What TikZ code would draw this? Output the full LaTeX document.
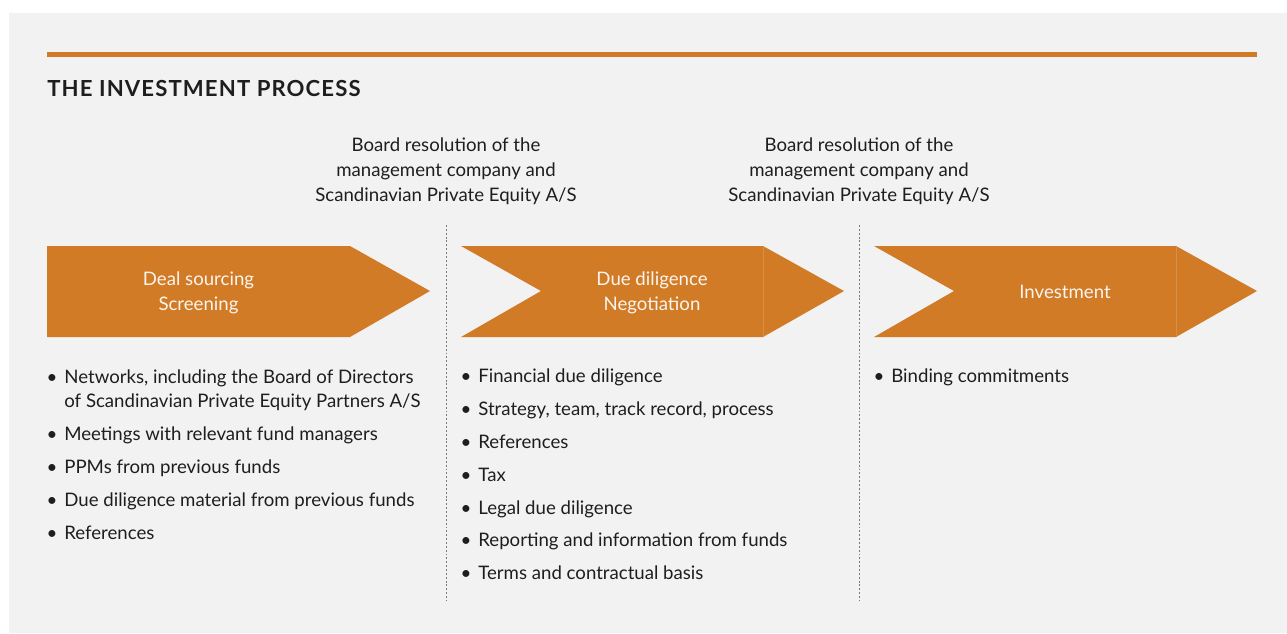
\documentclass[tikz,border=0pt]{standalone}
\usepackage{fontspec}
\setmainfont{Lato}
\usepackage{xcolor}
\usetikzlibrary{positioning}
\definecolor{ProcOrange}{HTML}{D17B27}
\definecolor{PanelGray}{HTML}{F2F2F2}
\definecolor{TextDark}{HTML}{1E1E1E}
\definecolor{RuleGray}{HTML}{7A7A7A}

\begin{document}
\begin{tikzpicture}[x=0.02cm,y=-0.02cm,
    every node/.style={font=\fontsize{10.6}{14.2}\selectfont, text=TextDark, inner sep=0pt},
    stage/.style={text=white!92!ProcOrange, align=center},
    note/.style={align=center},
    item/.style={anchor=base west},
    dot/.style={anchor=base},
    sep/.style={RuleGray, line width=0.5pt, dash pattern=on 1.1pt off 1.1pt}]
  % panel
  \useasboundingbox (0,0) rectangle (1287,633);
  \fill[PanelGray] (9,13) rectangle (1287,633);
  \fill[ProcOrange] (47,52) rectangle (1257,57);
  \node[anchor=base west] (title) at (47,96)
    {\fontsize{12.6}{14}\selectfont\bfseries\addfontfeature{LetterSpace=5}THE INVESTMENT PROCESS};

  % stage arrows
  \fill[ProcOrange] (47,246) -- (350,246) -- (430,291) -- (350,337) -- (47,337) -- cycle;
  \foreach \xa/\xb in {461/763, 874/1176} {
    \fill[ProcOrange] (\xa,246) -- (\xb,246) -- (\xb+81,291) -- (\xb,337)
      -- (\xa,337) -- (\xa+80,291) -- cycle;
    \draw[white!14!ProcOrange, line width=0.4pt] (\xb,246) -- (\xb,337);
  }
  \node[stage] (sourcing) at (198.5,293) {Deal sourcing\\Screening};
  \node[stage] (diligence) at (652,293) {Due diligence\\Negotiation};
  \node[stage, anchor=base] (investment) at (1065,298) {Investment};

  % decision points
  \draw[sep] (446,225) -- (446,601);
  \draw[sep] (859,225) -- (859,601);
  \node[note] (board1) at (446,171)
    {Board resolution of the\\management company and\\Scandinavian Private Equity A/S};
  \node[note] (board2) at (859,171)
    {Board resolution of the\\management company and\\Scandinavian Private Equity A/S};

  % activities per stage
  \foreach \y/\txt [count=\i] in {383/{Networks, including the Board of Directors},
      440/Meetings with relevant fund managers, 473/PPMs from previous funds,
      506/Due diligence material from previous funds, 539/References} {
    \node[dot] (srcdot\i) at (52,\y) {\textbullet};
    \node[item] (src\i) at (64,\y) {\txt};
  }
  \node[item] (src1b) at (64,407) {of Scandinavian Private Equity Partners A/S};

  \foreach \y/\txt [count=\i] in {382/Financial due diligence,
      415/{Strategy, team, track record, process}, 448/References, 481/Tax,
      514/Legal due diligence, 546/Reporting and information from funds,
      579/Terms and contractual basis} {
    \node[dot] (dildot\i) at (466,\y) {\textbullet};
    \node[item] (dil\i) at (478,\y) {\txt};
  }

  \node[dot] (invdot1) at (879,382) {\textbullet};
  \node[item] (inv1) at (891,382) {Binding commitments};
\end{tikzpicture}
\end{document}
